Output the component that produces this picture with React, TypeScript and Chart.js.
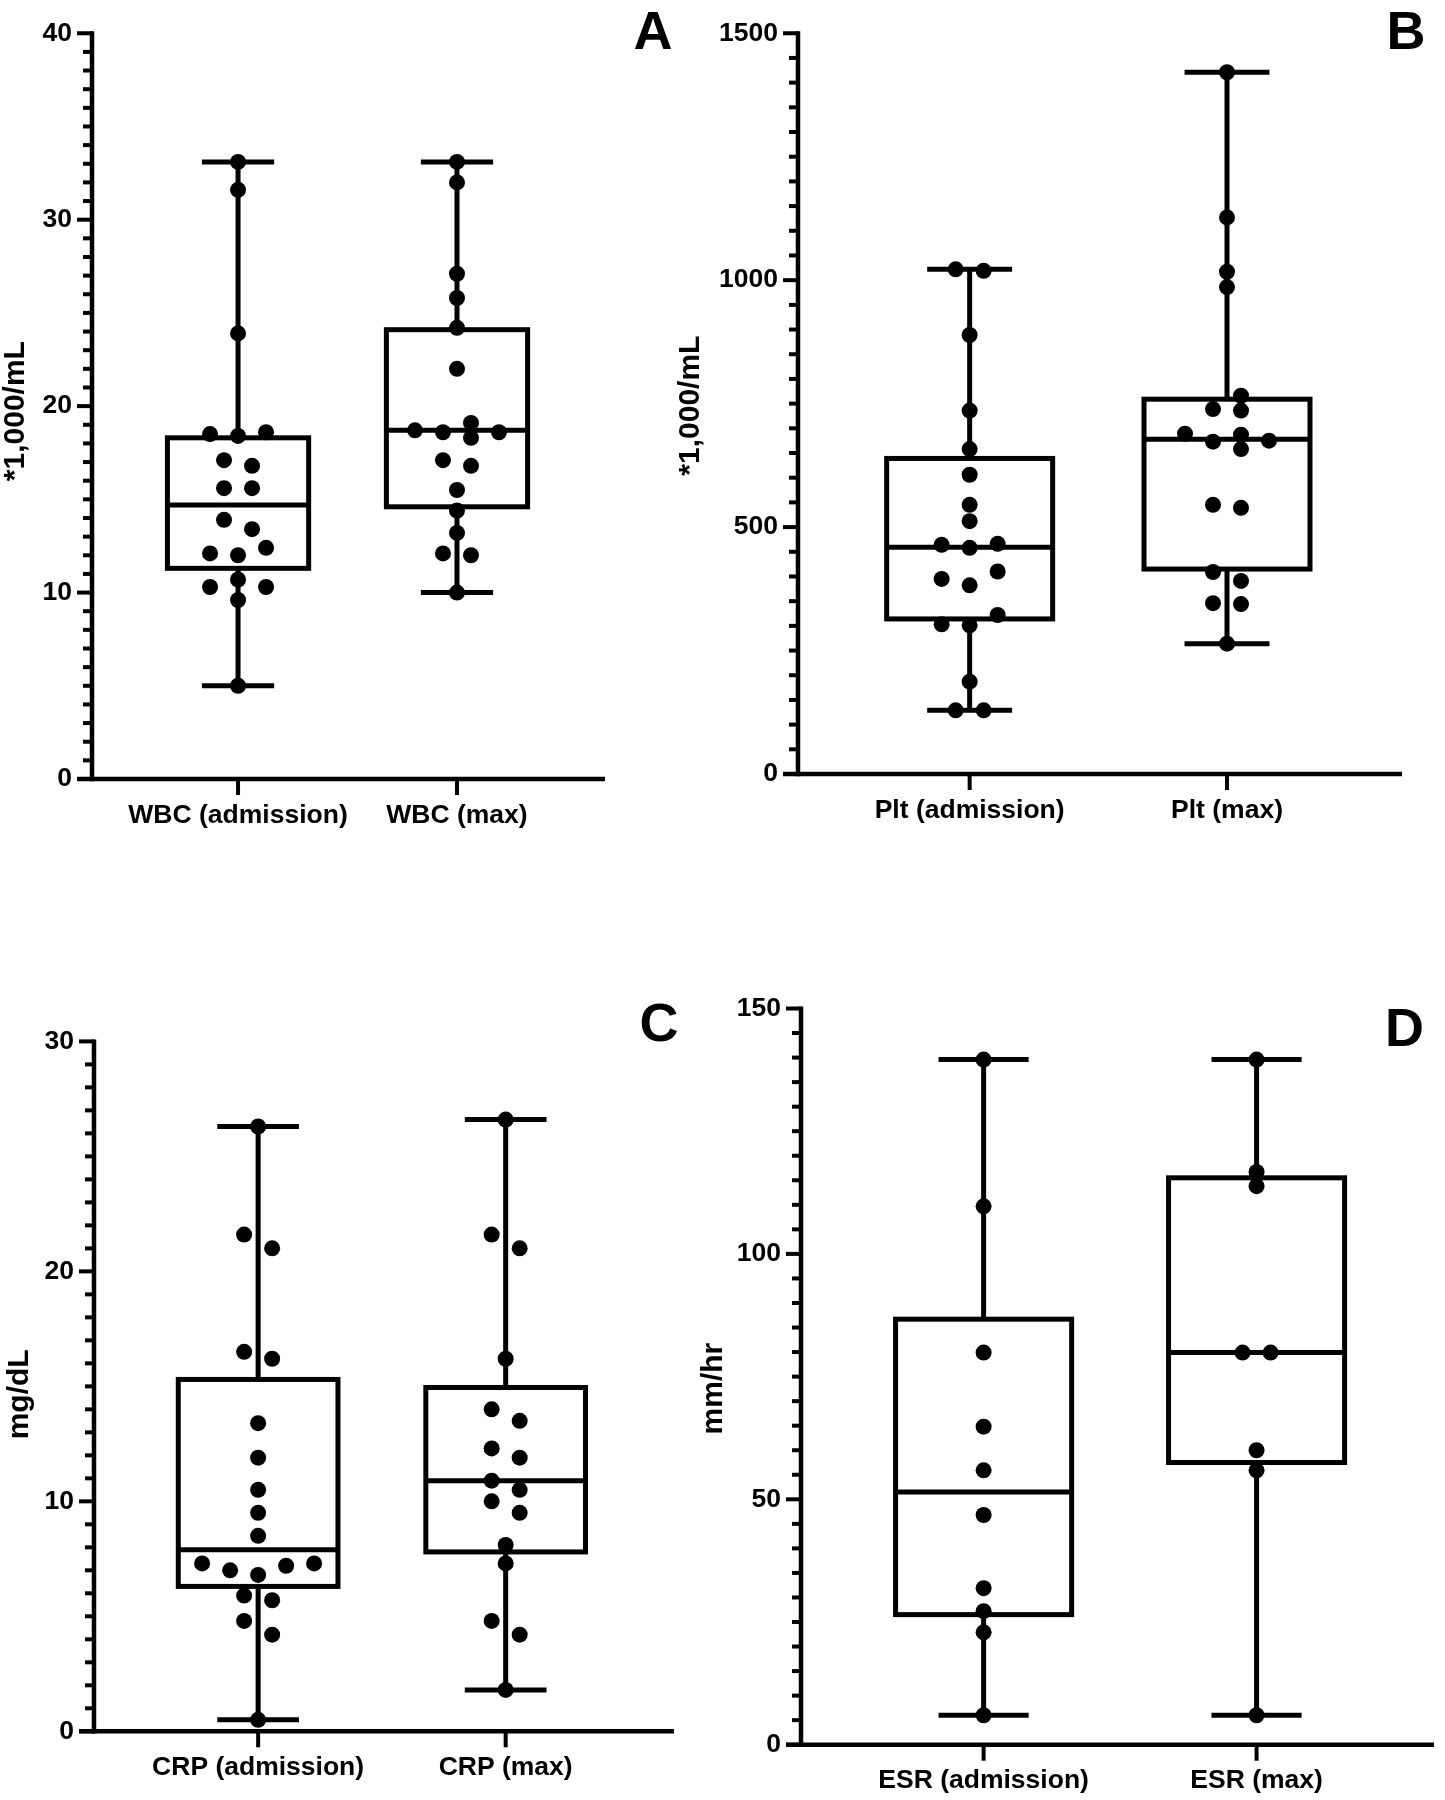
import React, { useEffect, useRef } from "react";
import { Chart, registerables } from "chart.js";

Chart.register(...registerables);

const FONT_FAMILY = '"Liberation Sans", Arial, Helvetica, sans-serif';

// ---------------- Data ----------------
// Panel A: WBC (*1,000/mL)
const wbcCategories = ["WBC (admission)", "WBC (max)"];
const wbcAdmission = [33.1, 31.6, 23.9, 18.6, 18.4, 18.5, 17.1, 16.8, 15.6, 15.6, 13.9, 13.4, 12.1, 12.0, 12.4, 10.7, 10.3, 10.3, 9.6, 5.0];
const wbcMax = [33.1, 32.0, 27.1, 25.8, 24.2, 22.0, 18.7, 19.1, 18.3, 18.6, 18.6, 16.8, 17.1, 15.5, 14.4, 13.2, 12.1, 12.0, 10.0];
// five-number summaries: [min, Q1, median, Q3, max]
const wbcAdmissionBox = [5.0, 11.3, 14.7, 18.3, 33.1];
const wbcMaxBox = [10.0, 14.6, 18.7, 24.1, 33.1];
const wbcTicks = [0, 10, 20, 30, 40];

// Panel B: Plt (*1,000/mL)
const pltCategories = ["Plt (admission)", "Plt (max)"];
const pltAdmission = [1022, 1019, 889, 736, 658, 606, 545, 512, 464, 466, 458, 410, 395, 382, 322, 301, 303, 187, 129, 129];
const pltMax = [1421, 1127, 1017, 986, 766, 736, 739, 687, 689, 675, 673, 658, 545, 539, 409, 391, 346, 344, 264];
const pltAdmissionBox = [129, 314, 459, 639, 1022];
const pltMaxBox = [264, 415, 678, 759, 1421];
const pltTicks = [0, 500, 1000, 1500];

// Panel C: CRP (mg/dL)
const crpCategories = ["CRP (admission)", "CRP (max)"];
const crpAdmission = [26.3, 21.6, 21.0, 16.5, 16.2, 13.4, 11.9, 10.5, 9.5, 8.5, 7.3, 7.0, 6.8, 7.2, 7.3, 5.9, 5.7, 4.8, 4.2, 0.5];
const crpMax = [26.6, 21.6, 21.0, 16.2, 14.0, 13.5, 12.3, 11.9, 10.9, 10.5, 10.0, 9.5, 8.1, 7.3, 4.8, 4.2, 1.8];
const crpAdmissionBox = [0.5, 6.3, 7.9, 15.3, 26.3];
const crpMaxBox = [1.8, 7.8, 10.9, 14.95, 26.6];
const crpTicks = [0, 10, 20, 30];

// Panel D: ESR (mm/hr)
const esrCategories = ["ESR (admission)", "ESR (max)"];
const esrAdmission = [139.6, 109.7, 79.9, 64.8, 55.9, 46.8, 31.9, 27.2, 22.9, 6.0];
const esrMax = [139.6, 116.7, 113.8, 79.9, 79.9, 60.0, 55.9, 6.0];
const esrAdmissionBox = [6.0, 26.5, 51.5, 86.7, 139.6];
const esrMaxBox = [6.0, 57.5, 79.9, 115.5, 139.6];
const esrTicks = [0, 50, 100, 150];

// ---------------- Styles ----------------
const INK = "#000000";
const LINE_W = 5;
const AXIS_W = 4.5;
const TICK_W = 4;
const MAJOR_TICK = 15;
const MINOR_TICK = 9;
const X_TICK = 16;
const DOT_R = 8;
const HALF_SLOT = 14;
const SWARM_GAP = 14; // vertical px below which dots are spread sideways
const BOX_WIDTH = 0.645; // in category units
const CAP_WIDTH = 0.33; // in category units
const LABEL_SIZE = 26.5;
const TITLE_SIZE = 30;
const LETTER_SIZE = 54;

type Frame = {
  left: number; top: number; width: number; height: number;
  padLeft: number; padTop: number; padRight: number;
  yWidth: number; xHeight: number; xMin: number; xMax: number;
  titleX: number; titleShift: number;
  letterX: number; letterY: number;
};

type Panel = {
  key: string;
  letter: string;
  categories: string[];
  series: number[][];
  boxes: number[][];
  ticks: number[];
  minorStep: number;
  title: string;
  frame: Frame;
};

const panels: Panel[] = [
  {
    key: "A", letter: "A", categories: wbcCategories, series: [wbcAdmission, wbcMax],
    boxes: [wbcAdmissionBox, wbcMaxBox], ticks: wbcTicks, minorStep: 1, title: "*1,000/mL",
    frame: { left: 0, top: 0, width: 700, height: 900, padLeft: 1, padTop: 18, padRight: 95, yWidth: 91, xHeight: 121, xMin: 0.333, xMax: 2.676, titleX: 16, titleShift: 5, letterX: 653, letterY: 3 },
  },
  {
    key: "B", letter: "B", categories: pltCategories, series: [pltAdmission, pltMax],
    boxes: [pltAdmissionBox, pltMaxBox], ticks: pltTicks, minorStep: 50, title: "*1,000/mL",
    frame: { left: 660, top: 0, width: 785, height: 900, padLeft: 16, padTop: 13.4, padRight: 43, yWidth: 122, xHeight: 126, xMin: 0.333, xMax: 2.68, titleX: 31, titleShift: 2, letterX: 1406, letterY: 3 },
  },
  {
    key: "C", letter: "C", categories: crpCategories, series: [crpAdmission, crpMax],
    boxes: [crpAdmissionBox, crpMaxBox], ticks: crpTicks, minorStep: 1, title: "mg/dL",
    frame: { left: 0, top: 900, width: 700, height: 900, padLeft: 4.5, padTop: 141.4, padRight: 26, yWidth: 89.5, xHeight: 68.7, xMin: 0.337, xMax: 2.68, titleX: 19.5, titleShift: 8, letterX: 659, letterY: 995 },
  },
  {
    key: "D", letter: "D", categories: esrCategories, series: [esrAdmission, esrMax],
    boxes: [esrAdmissionBox, esrMaxBox], ticks: esrTicks, minorStep: 5, title: "mm/hr",
    frame: { left: 660, top: 900, width: 785, height: 900, padLeft: 39, padTop: 108.5, padRight: 11, yWidth: 102, xHeight: 55.3, xMin: 0.331, xMax: 2.65, titleX: 54, titleShift: 12, letterX: 1404.5, letterY: 1000 },
  },
];

function strokeLine(ctx: CanvasRenderingContext2D, x1: number, y1: number, x2: number, y2: number) {
  ctx.beginPath();
  ctx.moveTo(x1, y1);
  ctx.lineTo(x2, y2);
  ctx.stroke();
}

function makeFramePlugin(panel: Panel) {
  return {
    id: "boxFrame",
    beforeDatasetsDraw(chart: any) {
      const ctx: CanvasRenderingContext2D = chart.ctx;
      const xs = chart.scales.x;
      const ys = chart.scales.y;
      const left = chart.chartArea.left;
      const right = chart.chartArea.right;
      const yMaxTick = panel.ticks[panel.ticks.length - 1];
      const bottom = ys.getPixelForValue(panel.ticks[0]);
      const top = ys.getPixelForValue(yMaxTick);
      ctx.save();
      ctx.strokeStyle = INK;
      ctx.lineCap = "butt";

      // y ticks (major + minor)
      ctx.lineWidth = TICK_W;
      const nSteps = Math.round((yMaxTick - panel.ticks[0]) / panel.minorStep);
      for (let s = 0; s <= nSteps; s++) {
        const v = panel.ticks[0] + s * panel.minorStep;
        const y = ys.getPixelForValue(v);
        const isMajor = panel.ticks.some((t) => Math.abs(t - v) < 1e-6);
        strokeLine(ctx, left - (isMajor ? MAJOR_TICK : MINOR_TICK), y, left, y);
      }
      // x ticks
      panel.categories.forEach((_, i) => {
        const x = xs.getPixelForValue(i + 1);
        strokeLine(ctx, x, bottom, x, bottom + X_TICK);
      });
      // axis lines
      ctx.lineWidth = AXIS_W;
      strokeLine(ctx, left, bottom + AXIS_W / 2, left, top - TICK_W / 2);
      strokeLine(ctx, left - MAJOR_TICK, bottom, right, bottom);

      // y-axis title
      ctx.save();
      ctx.translate(panel.frame.titleX, (top + bottom) / 2 + panel.frame.titleShift);
      ctx.rotate(-Math.PI / 2);
      ctx.fillStyle = INK;
      ctx.font = `bold ${TITLE_SIZE}px ${FONT_FAMILY}`;
      ctx.textAlign = "center";
      ctx.textBaseline = "middle";
      ctx.fillText(panel.title, 0, 0);
      ctx.restore();

      // boxes and whiskers
      ctx.lineWidth = LINE_W;
      panel.boxes.forEach((b, i) => {
        const xc = xs.getPixelForValue(i + 1);
        const hw = xs.getPixelForValue(i + 1 + BOX_WIDTH / 2) - xc;
        const cw = xs.getPixelForValue(i + 1 + CAP_WIDTH / 2) - xc;
        const [yMin, yQ1, yMed, yQ3, yMx] = b.map((v) => ys.getPixelForValue(v));
        strokeLine(ctx, xc, yMx, xc, yQ3);
        strokeLine(ctx, xc, yQ1, xc, yMin);
        strokeLine(ctx, xc - cw, yMx, xc + cw, yMx);
        strokeLine(ctx, xc - cw, yMin, xc + cw, yMin);
        ctx.fillStyle = "#ffffff";
        ctx.fillRect(xc - hw, yQ3, hw * 2, yQ1 - yQ3);
        ctx.strokeRect(xc - hw, yQ3, hw * 2, yQ1 - yQ3);
        strokeLine(ctx, xc - hw, yMed, xc + hw, yMed);
      });
      ctx.restore();
    },
  };
}

// Spreads overlapping dots sideways (beeswarm) from each column's scale position,
// then centres every group of vertically-touching dots on its column.
const swarmPlugin = {
  id: "swarm",
  afterDatasetsUpdate(chart: any) {
    const xs = chart.scales.x;
    chart.data.datasets.forEach((ds: any, di: number) => {
      const els: any[] = chart.getDatasetMeta(di).data as any[];
      const n = els.length;
      const order = els.map((_, i) => i).sort((a, b) => els[b].y - els[a].y);
      const slot: number[] = new Array(n).fill(0);
      const placed: number[] = [];
      for (const i of order) {
        const y = els[i].y;
        let chosen = 0;
        for (let step = 0; step < 80; step++) {
          const k = step === 0 ? 0 : step % 2 === 1 ? -(step + 1) / 2 : step / 2;
          const hit = placed.some((j) => Math.abs(slot[j] - k) < 2 && Math.abs(els[j].y - y) < SWARM_GAP);
          if (!hit) {
            chosen = k;
            break;
          }
        }
        slot[i] = chosen;
        placed.push(i);
      }
      const parent = els.map((_, i) => i);
      const find = (a: number): number => (parent[a] === a ? a : (parent[a] = find(parent[a])));
      for (let a = 0; a < n; a++) {
        for (let b = a + 1; b < n; b++) {
          if (Math.abs(els[a].y - els[b].y) < SWARM_GAP) parent[find(a)] = find(b);
        }
      }
      const groups: Record<number, number[]> = {};
      for (let a = 0; a < n; a++) {
        const r = find(a);
        (groups[r] = groups[r] || []).push(a);
      }
      Object.values(groups).forEach((g) => {
        const mean = g.reduce((s, i) => s + slot[i], 0) / g.length;
        const shift = -Math.round(mean);
        g.forEach((i) => (slot[i] += shift));
      });
      for (let i = 0; i < n; i++) {
        const base = xs.getPixelForValue(ds.data[i].x);
        els[i].x = base + slot[i] * HALF_SLOT;
      }
    });
  },
};

function ChartPanel({ panel }: { panel: Panel }) {
  const ref = useRef<HTMLCanvasElement | null>(null);
  const f = panel.frame;
  useEffect(() => {
    const canvas = ref.current;
    if (!canvas) return;
    const labelFont = { family: FONT_FAMILY, size: LABEL_SIZE, weight: "bold" as const, lineHeight: 1 };
    const chart = new Chart(canvas, {
      type: "scatter",
      data: {
        datasets: panel.series.map((vals, i) => ({
          data: vals.map((v) => ({ x: i + 1, y: v })),
          pointRadius: DOT_R,
          pointHoverRadius: DOT_R,
          pointBackgroundColor: INK,
          pointBorderColor: INK,
          pointBorderWidth: 0,
          showLine: false,
          clip: false as any,
        })),
      },
      options: {
        animation: false,
        responsive: false,
        maintainAspectRatio: false,
        devicePixelRatio: 1,
        events: [],
        layout: { padding: { left: f.padLeft, top: f.padTop, right: f.padRight, bottom: 0 } },
        plugins: { legend: { display: false }, tooltip: { enabled: false }, title: { display: false } },
        scales: {
          x: {
            type: "linear",
            min: f.xMin,
            max: f.xMax,
            afterBuildTicks: (s: any) => {
              s.ticks = panel.categories.map((_, i) => ({ value: i + 1 }));
            },
            afterFit: (s: any) => {
              s.height = f.xHeight;
            },
            ticks: {
              autoSkip: false,
              maxRotation: 0,
              minRotation: 0,
              padding: 23,
              color: INK,
              font: labelFont,
              callback: (v: any) => panel.categories[Math.round(Number(v)) - 1] ?? "",
            },
            grid: { display: false, drawTicks: false },
            border: { display: false },
          },
          y: {
            type: "linear",
            min: panel.ticks[0],
            max: panel.ticks[panel.ticks.length - 1],
            afterBuildTicks: (s: any) => {
              s.ticks = panel.ticks.map((v) => ({ value: v }));
            },
            afterFit: (s: any) => {
              s.width = f.yWidth;
            },
            ticks: {
              padding: 20,
              color: INK,
              font: labelFont,
              callback: (v: any) => String(v),
            },
            title: { display: false },
            grid: { display: false, drawTicks: false },
            border: { display: false },
          },
        },
      } as any,
      plugins: [makeFramePlugin(panel), swarmPlugin] as any,
    });
    return () => chart.destroy();
  }, [panel]);
  return (
    <canvas
      ref={ref}
      width={f.width}
      height={f.height}
      style={{ position: "absolute", left: f.left, top: f.top, width: f.width, height: f.height }}
    />
  );
}

export default function App() {
  return (
    <div
      style={{
        position: "absolute",
        left: 0,
        top: 0,
        width: 1445,
        height: 1800,
        background: "#ffffff",
        overflow: "hidden",
      }}
    >
      {panels.map((p) => (
        <ChartPanel key={p.key} panel={p} />
      ))}
      {panels.map((p) => (
        <div
          key={"letter-" + p.key}
          style={{
            position: "absolute",
            left: p.frame.letterX - 50,
            top: p.frame.letterY,
            width: 100,
            textAlign: "center",
            fontFamily: FONT_FAMILY,
            fontWeight: "bold",
            fontSize: LETTER_SIZE,
            lineHeight: LETTER_SIZE + "px",
            color: INK,
          }}
        >
          {p.letter}
        </div>
      ))}
    </div>
  );
}
